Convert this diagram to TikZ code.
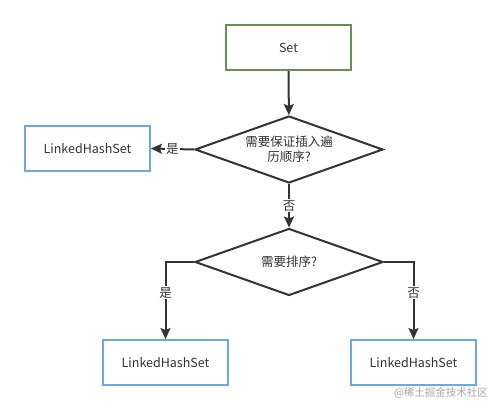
\documentclass[tikz,border=0pt]{standalone}
\usepackage{fontspec}
\setmainfont{Noto Sans CJK SC}
\usetikzlibrary{shapes.geometric,arrows.meta}
\definecolor{boxgreen}{HTML}{6A8E52}
\definecolor{boxblue}{HTML}{6FA6E6}
\definecolor{linec}{HTML}{333333}
\definecolor{txt}{HTML}{333333}
\begin{document}
\begin{tikzpicture}[x=1pt,y=-1pt,
  greenbox/.style={draw=boxgreen,line width=1.8pt,minimum width=125pt,minimum height=45pt,inner sep=0pt,font=\fontsize{12.5}{14}\selectfont,text=txt},
  bluebox/.style={draw=boxblue,line width=1.8pt,minimum width=125pt,minimum height=45pt,inner sep=0pt,font=\fontsize{12.5}{14}\selectfont,text=txt},
  decision/.style={draw=linec,line width=2pt,diamond,aspect=2.8,minimum width=188pt,minimum height=67pt,inner sep=0pt,align=center,font=\fontsize{12.5}{15}\selectfont,text=txt},
  conn/.style={draw=linec,line width=2pt,-{Stealth[length=11pt,width=10pt,inset=2pt]}},
  lbl/.style={fill=white,inner sep=1pt,font=\fontsize{12.5}{14}\selectfont,text=txt}
]
\useasboundingbox (0,0) rectangle (501,411);
\node[greenbox] (set) at (288.5,47.5) {Set};
\node[decision] (d1) at (289,149.5) {需要保证插入遍\\历顺序?};
\node[bluebox] (l1) at (87.5,148.5) {LinkedHashSet};
\node[decision] (d2) at (289,262) {需要排序?};
\node[bluebox] (l2) at (165.5,362.5) {LinkedHashSet};
\node[bluebox] (l3) at (413.5,362.5) {LinkedHashSet};
\draw[conn] (set) -- (d1);
\draw[conn] (d1.west) -- (l1.east) node[lbl,pos=0.5] {是};
\draw[conn] (d1.south) -- (d2.north) node[lbl,pos=0.5] {否};
\draw[conn] (d2.west) -| (l2.north) node[lbl,pos=0.7] {是};
\draw[conn] (d2.east) -| (l3.north) node[lbl,pos=0.7] {否};
\node[text=black!35,font=\fontsize{10.5}{12}\selectfont] (wm) at (441,393) {@稀土掘金技术社区};
\end{tikzpicture}
\end{document}
